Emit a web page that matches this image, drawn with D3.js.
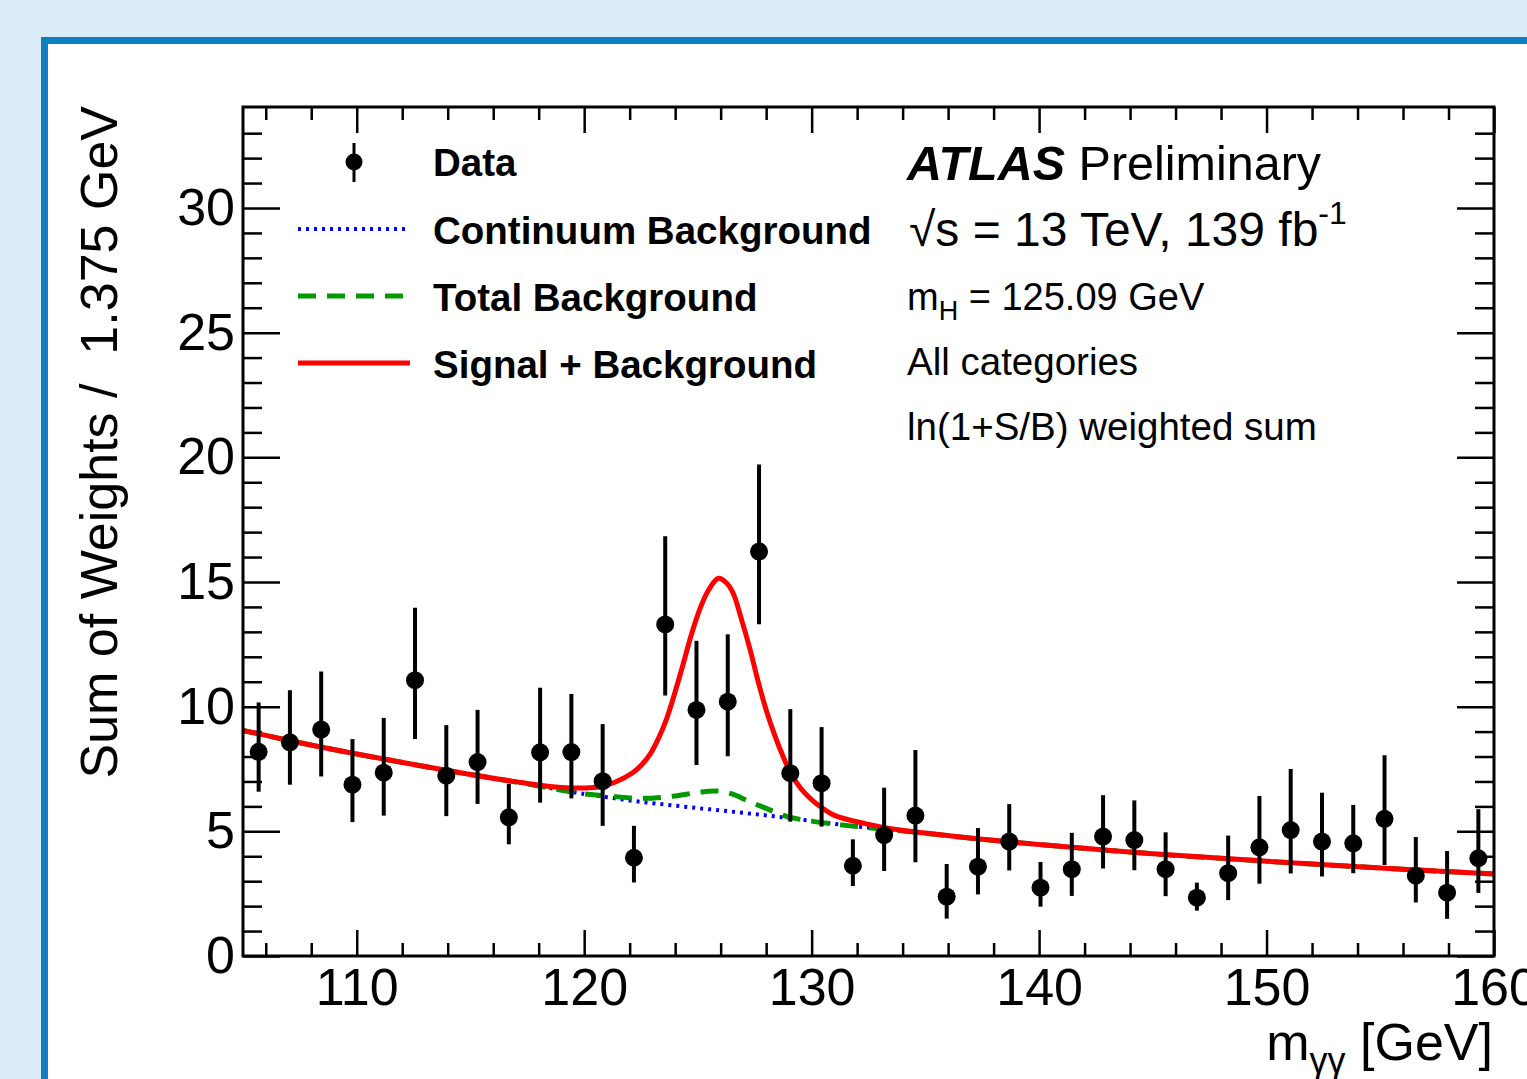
<!DOCTYPE html>
<html>
<head>
<meta charset="utf-8">
<script src="https://cdn.jsdelivr.net/npm/d3@7/dist/d3.min.js"></script>
<style>
html,body{margin:0;padding:0;background:#daecf6;overflow:hidden;}
svg{display:block;}
text{font-family:"Liberation Sans",Arial,Helvetica,sans-serif;fill:#000;}
</style>
</head>
<body>
<svg id="chart" width="1527" height="1079"></svg>
<script>
// ---- data ----
const binCenters = [105.6875,107.0625,108.4375,109.8125,111.1875,112.5625,113.9375,115.3125,116.6875,118.0625,
  119.4375,120.8125,122.1875,123.5625,124.9375,126.3125,127.6875,129.0625,130.4375,131.8125,
  133.1875,134.5625,135.9375,137.3125,138.6875,140.0625,141.4375,142.8125,144.1875,145.5625,
  146.9375,148.3125,149.6875,151.0625,152.4375,153.8125,155.1875,156.5625,157.9375,159.3125];
const dataValues = [8.19,8.57,9.08,6.87,7.35,11.06,7.23,7.78,5.56,8.17,
  8.18,7.01,3.94,13.3,9.87,10.2,16.22,7.33,6.93,3.62,
  4.85,5.63,2.38,3.58,4.59,2.74,3.48,4.79,4.65,3.48,
  2.34,3.32,4.36,5.05,4.59,4.52,5.5,3.22,2.54,3.92];
const errHigh = [1.98,2.09,2.33,1.83,2.2,2.91,2.03,2.09,1.34,2.59,
  2.33,2.29,1.28,3.53,2.77,2.70,3.49,2.57,2.25,1.06,
  1.90,2.63,1.31,1.55,1.5,1.03,1.46,1.66,1.59,1.48,
  0.6,1.51,2.06,2.45,1.96,1.54,2.55,1.55,1.67,1.97];
const errLow = [1.60,1.70,1.88,1.50,1.72,2.36,1.62,1.68,1.08,2.02,
  1.86,1.79,0.99,2.85,2.21,2.19,2.91,1.94,1.74,0.81,
  1.44,1.87,0.88,1.11,1.16,0.76,1.07,1.28,1.21,1.08,
  0.52,1.08,1.46,1.74,1.4,1.2,1.85,1.07,1.05,1.39];

const continuumMass = [105,107.5,110,112.5,115,117.5,120,121,122,123,124,125,126,127,128,129,130,131,132,133,135,137.5,140,145,150,155,160];
const continuumVal  = [9.05,8.55,8.1,7.68,7.28,6.9,6.5,6.37,6.24,6.13,6.03,5.93,5.84,5.74,5.64,5.53,5.42,5.3,5.19,5.1,4.92,4.68,4.47,4.1,3.8,3.53,3.29];

const totalMass = [105,107.5,110,112.5,115,117.5,120,121,122,123,124,125,125.8,126.5,127.2,128,128.9,130.2,131.2,132,133,135,137.5,140,145,150,155,160];
const totalVal  = [9.05,8.55,8.1,7.68,7.28,6.9,6.5,6.43,6.34,6.33,6.42,6.56,6.62,6.5,6.22,5.92,5.6,5.38,5.27,5.19,5.1,4.92,4.68,4.47,4.1,3.8,3.53,3.29];

const sigBkgMass = [105,107.5,110,112.5,115,117.5,119,120,120.7,121.4,122.15,122.5,122.9,123.25,123.6,124.0,124.35,124.7,125.1,125.45,125.9,126.25,126.55,126.9,127.3,127.65,128,128.4,128.75,129.1,129.5,129.85,130.2,130.95,132.4,133.9,135,137.5,140,145,150,155,160];
const sigBkgVal  = [9.05,8.55,8.1,7.68,7.28,6.92,6.76,6.74,6.79,6.99,7.36,7.64,8.1,8.7,9.45,10.6,11.7,12.85,13.95,14.65,15.15,14.97,14.55,13.55,12.27,11.0,9.87,8.8,7.99,7.3,6.75,6.4,6.12,5.66,5.3,5.05,4.93,4.68,4.47,4.1,3.8,3.53,3.29];

const xMajorTicks = [110,120,130,140,150,160];
const xMinorTicks = [106,108,112,114,116,118,122,124,126,128,132,134,136,138,142,144,146,148,152,154,156,158];
const yMajorTicks = [0,5,10,15,20,25,30];
const yMinorTicks = [1,2,3,4,6,7,8,9,11,12,13,14,16,17,18,19,21,22,23,24,26,27,28,29,31,32,33];

// ---- layout ----
const svg = d3.select("#chart");
const L = 243, R = 1494, T = 107, B = 956;
const x = d3.scaleLinear().domain([105,160]).range([L,R]);
const y = d3.scaleLinear().domain([0,34.05]).range([B,T]);

svg.append("rect").attr("x",0).attr("y",0).attr("width",1527).attr("height",1079).attr("fill","#daecf6");
svg.append("rect").attr("x",44.5).attr("y",40.5).attr("width",1600).attr("height",1200)
  .attr("fill","#ffffff").attr("stroke","#0f7fc4").attr("stroke-width",7);

const FONT = '"Liberation Sans",Arial,Helvetica,sans-serif';

function styleAxis(g){
  g.select(".domain").remove();
  g.selectAll(".tick line").attr("stroke","#000").attr("stroke-width",2.5);
  g.selectAll(".tick text").style("font-family",FONT).style("font-size","52px").attr("fill","#000");
}
svg.append("g").attr("transform",`translate(0,${B})`)
  .call(d3.axisBottom(x).tickValues(xMajorTicks).tickSize(-26).tickSizeOuter(0).tickPadding(12).tickFormat(d3.format("d")))
  .call(styleAxis);
svg.append("g").attr("transform",`translate(0,${B})`)
  .call(d3.axisBottom(x).tickValues(xMinorTicks).tickSize(-13).tickSizeOuter(0).tickFormat(""))
  .call(styleAxis);
svg.append("g").attr("transform",`translate(0,${T})`)
  .call(d3.axisTop(x).tickValues(xMajorTicks).tickSize(-26).tickSizeOuter(0).tickFormat(""))
  .call(styleAxis);
svg.append("g").attr("transform",`translate(0,${T})`)
  .call(d3.axisTop(x).tickValues(xMinorTicks).tickSize(-13).tickSizeOuter(0).tickFormat(""))
  .call(styleAxis);
svg.append("g").attr("transform",`translate(${L},0)`)
  .call(d3.axisLeft(y).tickValues(yMajorTicks).tickSize(-37).tickSizeOuter(0).tickPadding(8).tickFormat(d3.format("d")))
  .call(styleAxis);
svg.append("g").attr("transform",`translate(${L},0)`)
  .call(d3.axisLeft(y).tickValues(yMinorTicks).tickSize(-19).tickSizeOuter(0).tickFormat(""))
  .call(styleAxis);
svg.append("g").attr("transform",`translate(${R},0)`)
  .call(d3.axisRight(y).tickValues(yMajorTicks).tickSize(-37).tickSizeOuter(0).tickFormat(""))
  .call(styleAxis);
svg.append("g").attr("transform",`translate(${R},0)`)
  .call(d3.axisRight(y).tickValues(yMinorTicks).tickSize(-19).tickSizeOuter(0).tickFormat(""))
  .call(styleAxis);

svg.append("clipPath").attr("id","plotclip").append("rect")
  .attr("x",L).attr("y",T).attr("width",R-L).attr("height",B-T);

const lineGen = d3.line().x(d=>x(d[0])).y(d=>y(d[1])).curve(d3.curveCatmullRom.alpha(0.5));
const curves = svg.append("g").attr("clip-path","url(#plotclip)");
curves.append("path").datum(d3.zip(continuumMass,continuumVal)).attr("d",lineGen)
  .attr("fill","none").attr("stroke","#0000ff").attr("stroke-width",4).attr("stroke-dasharray","3,5");
curves.append("path").datum(d3.zip(totalMass,totalVal)).attr("d",lineGen)
  .attr("fill","none").attr("stroke","#009a00").attr("stroke-width",5).attr("stroke-dasharray","18,11");
curves.append("path").datum(d3.zip(sigBkgMass,sigBkgVal)).attr("d",lineGen)
  .attr("fill","none").attr("stroke","#ff0000").attr("stroke-width",5);

const pts = svg.append("g");
const dataRows = binCenters.map((m,i)=>({m, v:dataValues[i], hi:errHigh[i], lo:errLow[i]}));
pts.selectAll("line.err").data(dataRows).join("line").attr("class","err")
  .attr("x1",d=>x(d.m)).attr("x2",d=>x(d.m))
  .attr("y1",d=>y(d.v+d.hi)).attr("y2",d=>y(d.v-d.lo))
  .attr("stroke","#000").attr("stroke-width",4);
pts.selectAll("circle").data(dataRows).join("circle")
  .attr("cx",d=>x(d.m)).attr("cy",d=>y(d.v)).attr("r",9).attr("fill","#000");

svg.append("rect").attr("x",L).attr("y",T).attr("width",R-L).attr("height",B-T)
  .attr("fill","none").attr("stroke","#000").attr("stroke-width",3);

// legend
const lg = svg.append("g");
lg.append("line").attr("x1",354).attr("x2",354).attr("y1",143).attr("y2",182).attr("stroke","#000").attr("stroke-width",3);
lg.append("circle").attr("cx",354).attr("cy",162).attr("r",8.5).attr("fill","#000");
lg.append("line").attr("x1",298).attr("x2",410).attr("y1",229).attr("y2",229)
  .attr("stroke","#0000ff").attr("stroke-width",4).attr("stroke-dasharray","3,5");
lg.append("line").attr("x1",298).attr("x2",410).attr("y1",296).attr("y2",296)
  .attr("stroke","#009a00").attr("stroke-width",5).attr("stroke-dasharray","18,11");
lg.append("line").attr("x1",298).attr("x2",410).attr("y1",363).attr("y2",363)
  .attr("stroke","#ff0000").attr("stroke-width",5);
const legendLabels = ["Data","Continuum Background","Total Background","Signal + Background"];
const legendBase = [176,244,311,378];
legendLabels.forEach((t,i)=>{
  lg.append("text").attr("x",433).attr("y",legendBase[i]).style("font-size","38.5px").style("font-weight","bold").text(t);
});

// ATLAS labels
const a1 = svg.append("text").attr("x",907).attr("y",180).style("font-size","48.5px");
a1.append("tspan").style("font-weight","bold").style("font-style","italic").text("ATLAS");
a1.append("tspan").text(" Preliminary");
const a2 = svg.append("text").attr("x",909).attr("y",246).style("font-size","48px");
a2.append("tspan").text("\u221As = 13 TeV, 139 fb");
a2.append("tspan").attr("dy",-22).style("font-size","32px").text("-1");
const a3 = svg.append("text").attr("x",907).attr("y",310).style("font-size","38px");
a3.append("tspan").text("m");
a3.append("tspan").attr("dy",10).style("font-size","27px").text("H");
a3.append("tspan").attr("dy",-10).text(" = 125.09 GeV");
svg.append("text").attr("x",907).attr("y",375).style("font-size","38.5px").text("All categories");
svg.append("text").attr("x",907).attr("y",440).style("font-size","38.5px").text("ln(1+S/B) weighted sum");

// axis titles
svg.append("text").attr("transform","translate(117,106) rotate(-90)").attr("text-anchor","end")
  .style("font-size","52px").style("white-space","pre").text("Sum of Weights /  1.375 GeV");
const xt = svg.append("text").attr("x",1493).attr("y",1060).attr("text-anchor","end").style("font-size","52px");
xt.append("tspan").text("m");
xt.append("tspan").attr("dy",13).style("font-size","36px").text("\u03B3\u03B3");
xt.append("tspan").attr("dy",-13).text(" [GeV]");
</script>
</body>
</html>
